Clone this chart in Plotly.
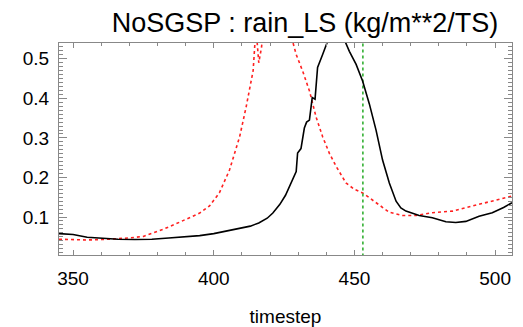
import plotly.graph_objects as go

# Black solid series
t_black = [345, 350, 355, 360, 366, 372, 378, 384, 390, 395, 400, 405, 409, 413,
           416, 419, 421, 423.5, 425.5, 427, 428.5, 429.3, 429.8, 431, 432.2, 433,
           434, 435, 436, 436.9, 438.7, 440.5, 442, 444, 446, 448.2, 450.6, 452.9,
           455.3, 457.7, 460, 462.4, 464.8, 466.5, 468.3, 473, 477.7, 482.5, 486,
           489.6, 494.3, 499, 503, 506]
v_black = [0.058, 0.056, 0.049, 0.046, 0.044, 0.043, 0.044, 0.047, 0.050, 0.053,
           0.058, 0.065, 0.071, 0.077, 0.085, 0.097, 0.110, 0.132, 0.155, 0.178,
           0.200, 0.215, 0.262, 0.273, 0.325, 0.340, 0.345, 0.402, 0.398, 0.478,
           0.511, 0.545, 0.560, 0.565, 0.555, 0.519, 0.486, 0.444, 0.386, 0.319,
           0.244, 0.186, 0.140, 0.123, 0.115, 0.104, 0.098, 0.088, 0.086, 0.089,
           0.102, 0.111, 0.124, 0.136]

# Red dotted series
t_red = [345, 350, 355, 360, 366, 370, 375, 378, 382, 386, 390, 395, 398.5, 402,
         405.6, 409.2, 411.5, 413.3, 414, 415, 416, 417, 418, 422, 425, 427, 428,
         429.3, 431.6, 434, 436.4, 438.7, 441.1, 443.5, 447, 450, 452.9, 457.7,
         462.4, 467, 472, 477.7, 485, 492, 499, 506]
v_red = [0.044, 0.043, 0.042, 0.043, 0.045, 0.047, 0.051, 0.058, 0.069, 0.081,
         0.094, 0.110, 0.128, 0.161, 0.219, 0.303, 0.378, 0.444, 0.470, 0.580,
         0.490, 0.530, 0.620, 0.750, 0.650, 0.570, 0.545, 0.511, 0.469, 0.419,
         0.352, 0.303, 0.261, 0.228, 0.186, 0.170, 0.161, 0.136, 0.112, 0.104,
         0.104, 0.111, 0.115, 0.128, 0.140, 0.153]

# Green vertical marker
t_marker = [453, 453]
v_marker = [0.0, 0.6]

x_range = [345, 506]
y_range = [0.004, 0.54]
x_ticks = [350, 400, 450, 500]
y_ticks = [0.1, 0.2, 0.3, 0.4, 0.5]

font = "Liberation Sans, Arial, Helvetica, sans-serif"

fig = go.Figure()
fig.add_trace(go.Scatter(x=t_red, y=v_red, mode="lines",
                         line=dict(color="#ff2020", width=1.6, dash="dot")))
fig.add_trace(go.Scatter(x=t_marker, y=v_marker, mode="lines",
                         line=dict(color="#33b033", width=1.6, dash="dot")))
fig.add_trace(go.Scatter(x=t_black, y=v_black, mode="lines",
                         line=dict(color="black", width=1.6)))

axis_common = dict(showgrid=False, zeroline=False, showline=True, linecolor="#888",
                   linewidth=1, mirror="allticks", ticks="inside", tickcolor="#888",
                   automargin=False,
                   tickfont=dict(family=font, size=19, color="black"))

fig.update_xaxes(range=x_range, tickvals=x_ticks, ticklen=5, ticklabelstandoff=6,
                 minor=dict(dtick=10, tick0=350, ticklen=3, ticks="inside", tickcolor="#888"),
                 title=dict(text="timestep", font=dict(family=font, size=19, color="black"),
                            standoff=23),
                 **axis_common)
fig.update_yaxes(range=y_range, tickvals=y_ticks, ticktext=["0.1", "0.2", "0.3", "0.4", "0.5"],
                 ticklen=8, ticklabelstandoff=5,
                 minor=dict(dtick=0.01, tick0=0, ticklen=4, ticks="inside", tickcolor="#888"),
                 **axis_common)

fig.update_layout(
    width=523, height=327,
    margin=dict(l=59, r=11, t=43, b=72, autoexpand=False),
    paper_bgcolor="white", plot_bgcolor="white",
    showlegend=False,
    title=dict(text="NoSGSP : rain_LS (kg/m**2/TS)", x=305 / 523, xanchor="center",
               y=1 - 23 / 327, yanchor="middle",
               font=dict(family=font, size=27, color="black")),
)

fig.write_html("out.html")
